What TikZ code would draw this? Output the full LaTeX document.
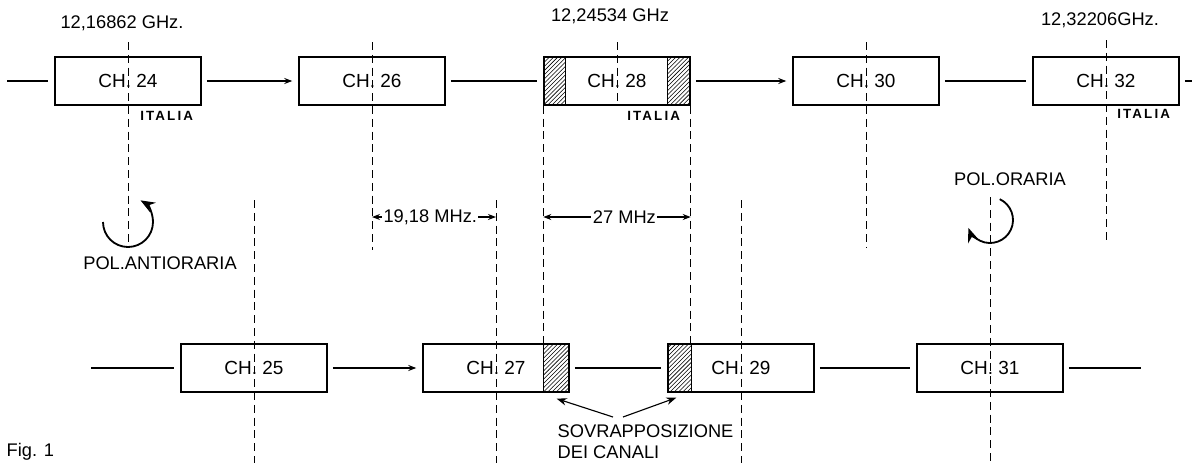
\documentclass[tikz,border=0pt]{standalone}
\usepackage{fontspec}
\setmainfont{Liberation Sans}
\newfontfamily\italiafont[LetterSpace=16]{Liberation Sans}
\usetikzlibrary{arrows.meta,patterns}

\begin{document}
\begin{tikzpicture}[x=0.025cm, y=0.025cm,
  chbox/.style={draw, line width=1pt, minimum width=3.65cm, minimum height=1.2cm,
    inner sep=0pt, font=\fontsize{13.5}{15}\selectfont},
  txt/.style={font=\fontsize{13}{15}\selectfont, inner sep=1pt},
  italia/.style={font=\italiafont\bfseries\fontsize{9.5}{11}\selectfont, anchor=west, inner sep=0pt},
  link/.style={line width=1pt, shorten <=1.3mm, shorten >=1.5mm},
  refline/.style={line width=0.7pt, dash pattern=on 2mm off 1.2mm},
  dim/.style={line width=0.8pt, {Stealth[length=2mm]}-{Stealth[length=2mm]}},
  rot/.style={line width=1.3pt, -{Stealth[length=3.6mm, width=2.8mm]}},
  hatch/.style={draw, line width=1pt, pattern=north east lines}]

  \useasboundingbox (0,0) rectangle (1198,-463);

  % channels, upper row
  \foreach \n/\x in {24/128,26/372,28/617,30/866,32/1106}
    \node[chbox] (ch\n) at (\x,-81) {CH. \n};
  % channels, lower row
  \foreach \n/\x in {25/254,27/496,29/741,31/990}
    \node[chbox] (ch\n) at (\x,-368) {CH. \n};

  % overlapping parts
  \draw[hatch] (ch28.north west) rectangle ++(22,-48);
  \draw[hatch] (ch28.north east) rectangle ++(-23,-48);
  \draw[hatch] (ch27.north east) rectangle ++(-26,-48);
  \draw[hatch] (ch29.north west) rectangle ++(24,-48);

  % lines between the channels
  \coordinate (tl) at (7,-81);
  \coordinate (tr) at (1192,-81);
  \coordinate (bl) at (91,-368);
  \coordinate (br) at (1141,-368);
  \draw[link, shorten <=0pt] (tl) -- (ch24);
  \draw[link, -{Stealth[length=2mm]}] (ch24) -- (ch26);
  \draw[link] (ch26) -- (ch28);
  \draw[link, -{Stealth[length=2mm]}] (ch28) -- (ch30);
  \draw[link] (ch30) -- (ch32);
  \draw[link, shorten >=0pt] (ch32) -- (tr);
  \draw[link, shorten <=0pt] (bl) -- (ch25);
  \draw[link, -{Stealth[length=2mm]}] (ch25) -- (ch27);
  \draw[link] (ch27) -- (ch29);
  \draw[link] (ch29) -- (ch31);
  \draw[link, shorten >=0pt] (ch31) -- (br);

  % centre frequencies
  \foreach \n/\a/\b in {24/42/247,26/42/250,28/42/103,30/42/247,32/40/243,
                        25/200/463,27/200/463,29/200/463,31/197/463}
    \draw[refline] (ch\n |- 0,-\a) -- (ch\n |- 0,-\b);
  \draw[refline] (ch28.south west) -- (ch28.south west |- ch27.north);
  \draw[refline] (ch28.south east) -- (ch28.south east |- ch29.north);

  \node[txt] (f24) at (122,-23) {12,16862 GHz.};
  \node[txt] (f28) at (610,-16) {12,24534 GHz};
  \node[txt] (f32) at (1100,-20) {12,32206GHz.};

  \node[italia] (it24) at (140,-116) {ITALIA};
  \node[italia] (it28) at (627,-116) {ITALIA};
  \node[italia] (it32) at (1117,-114) {ITALIA};

  % spacings
  \coordinate (d1) at (ch26 |- 0,-217);
  \coordinate (d2) at (ch27 |- 0,-217);
  \draw[dim] (d1) -- node[txt, fill=white, pos=0.47] {19,18 MHz.} (d2);
  \coordinate (d3) at (ch28.south west |- 0,-217);
  \coordinate (d4) at (ch28.south east |- 0,-217);
  \draw[dim] (d3) -- node[txt, fill=white, pos=0.55] {27 MHz} (d4);

  % polarisation
  \coordinate (rotA) at (ch24 |- 0,-222);
  \draw[rot] (rotA) ++(180:25) arc[start angle=180, end angle=420, radius=25];
  \node[txt] (antior) at (160,-263) {POL.ANTIORARIA};
  \coordinate (rotB) at (ch31 |- 0,-220);
  \draw[rot] (rotB) ++(65:23) arc[start angle=65, end angle=-160, radius=23];
  \node[txt] (orar) at (1010,-179) {POL.ORARIA};

  % overlap note
  \node[txt, align=left, anchor=north west] (overlap) at (556,-423) {SOVRAPPOSIZIONE\\DEI CANALI};
  \coordinate (ov1) at (613,-417);
  \coordinate (ov2) at (623,-417);
  \draw[line width=0.8pt, -{Stealth[length=2.5mm]}] (ov1) -- ([shift={(-13,-6)}]ch27.south east);
  \draw[line width=0.8pt, -{Stealth[length=2.5mm]}] (ov2) -- ([shift={(9,-5)}]ch29.south west);

  \node[txt, anchor=south west] (fig) at (5,-462) {Fig. 1};
\end{tikzpicture}
\end{document}
